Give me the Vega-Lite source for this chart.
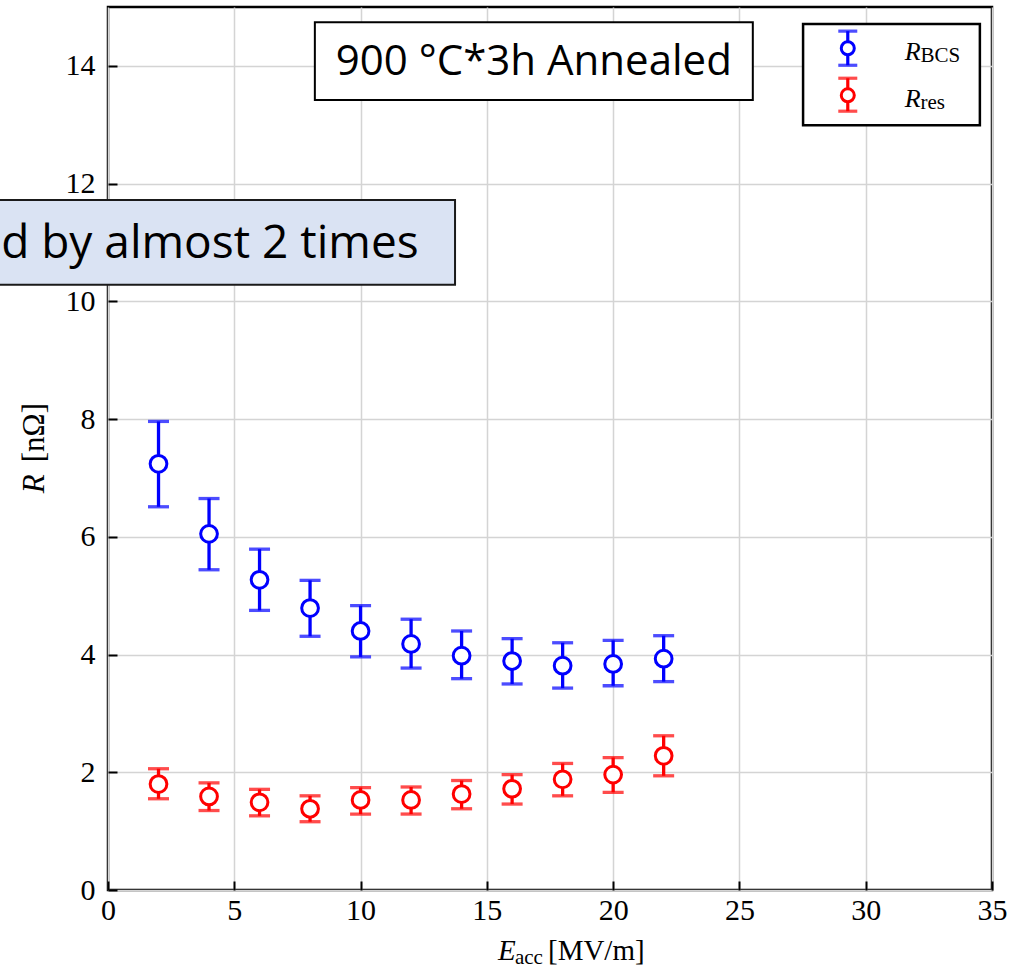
{
  "$schema": "https://vega.github.io/schema/vega-lite/v6.json",
  "width": 884,
  "height": 883,
  "autosize": {"type": "none"},
  "padding": {"left": 108, "top": 7, "right": 37, "bottom": 86},
  "background": "white",
  "config": {
    "view": {"stroke": "black", "strokeWidth": 2.5},
    "axis": {
      "labelFont": "Liberation Serif",
      "labelFontSize": 30,
      "labelColor": "black",
      "labelFlush": false,
      "domain": false,
      "tickColor": "black",
      "tickWidth": 2,
      "tickSize": -9,
      "grid": true,
      "gridColor": "#d4d4d4",
      "gridWidth": 1.5
    }
  },
  "datasets": {
    "pts": [
      {"E": 2, "series": "R_BCS", "R": 7.24, "lo": 6.51, "hi": 7.96},
      {"E": 4, "series": "R_BCS", "R": 6.05, "lo": 5.44, "hi": 6.65},
      {"E": 6, "series": "R_BCS", "R": 5.27, "lo": 4.75, "hi": 5.79},
      {"E": 8, "series": "R_BCS", "R": 4.79, "lo": 4.31, "hi": 5.26},
      {"E": 10, "series": "R_BCS", "R": 4.40, "lo": 3.96, "hi": 4.83},
      {"E": 12, "series": "R_BCS", "R": 4.18, "lo": 3.77, "hi": 4.60},
      {"E": 14, "series": "R_BCS", "R": 3.98, "lo": 3.59, "hi": 4.40},
      {"E": 16, "series": "R_BCS", "R": 3.89, "lo": 3.50, "hi": 4.27},
      {"E": 18, "series": "R_BCS", "R": 3.81, "lo": 3.43, "hi": 4.20},
      {"E": 20, "series": "R_BCS", "R": 3.84, "lo": 3.47, "hi": 4.24},
      {"E": 22, "series": "R_BCS", "R": 3.93, "lo": 3.54, "hi": 4.32},
      {"E": 2, "series": "R_res", "R": 1.80, "lo": 1.55, "hi": 2.06},
      {"E": 4, "series": "R_res", "R": 1.59, "lo": 1.35, "hi": 1.82},
      {"E": 6, "series": "R_res", "R": 1.49, "lo": 1.26, "hi": 1.71},
      {"E": 8, "series": "R_res", "R": 1.38, "lo": 1.16, "hi": 1.60},
      {"E": 10, "series": "R_res", "R": 1.53, "lo": 1.29, "hi": 1.74},
      {"E": 12, "series": "R_res", "R": 1.53, "lo": 1.29, "hi": 1.75},
      {"E": 14, "series": "R_res", "R": 1.63, "lo": 1.38, "hi": 1.86},
      {"E": 16, "series": "R_res", "R": 1.72, "lo": 1.46, "hi": 1.96},
      {"E": 18, "series": "R_res", "R": 1.88, "lo": 1.60, "hi": 2.15},
      {"E": 20, "series": "R_res", "R": 1.96, "lo": 1.66, "hi": 2.25},
      {"E": 22, "series": "R_res", "R": 2.28, "lo": 1.94, "hi": 2.62}
    ],
    "legend": [
      {"series": "R_BCS", "x": 29.29, "y": 14.30, "lo": 14.01, "hi": 14.59, "main": "R", "sub": "BCS", "ty": 14.10, "sy": 14.06},
      {"series": "R_res", "x": 29.29, "y": 13.50, "lo": 13.23, "hi": 13.79, "main": "R", "sub": "res", "ty": 13.30, "sy": 13.26}
    ]
  },
  "layer": [
    {
      "data": {"name": "pts"},
      "mark": {"type": "errorbar", "ticks": {"size": 21, "thickness": 3.3}, "rule": {"strokeWidth": 3.3}},
      "encoding": {
        "x": {"field": "E", "type": "quantitative", "scale": {"domain": [0, 35], "nice": false}, "axis": {"values": [0, 5, 10, 15, 20, 25, 30, 35], "labelPadding": 14, "title": null}},
        "y": {"field": "lo", "type": "quantitative", "scale": {"domain": [0, 15], "nice": false}, "axis": {"values": [0, 2, 4, 6, 8, 10, 12, 14], "labelPadding": 22, "format": "d", "title": null}},
        "y2": {"field": "hi"},
        "color": {"field": "series", "type": "nominal", "scale": {"domain": ["R_BCS", "R_res"], "range": ["#0000ff", "#ff0000"]}, "legend": null}
      }
    },
    {
      "data": {"name": "pts"},
      "mark": {"type": "point", "shape": "circle", "fill": "white", "filled": false, "opacity": 1, "strokeWidth": 3, "size": 280},
      "encoding": {
        "x": {"field": "E", "type": "quantitative"},
        "y": {"field": "R", "type": "quantitative"},
        "stroke": {"field": "series", "type": "nominal", "scale": {"domain": ["R_BCS", "R_res"], "range": ["#0000ff", "#ff0000"]}, "legend": null}
      }
    },
    {
      "data": {"values": [{"x1": 8.19, "x2": 25.53, "y1": 14.74, "y2": 13.42}]},
      "mark": {"type": "rect", "fill": "white", "stroke": "black", "strokeWidth": 2},
      "encoding": {
        "x": {"field": "x1", "type": "quantitative"}, "x2": {"field": "x2"},
        "y": {"field": "y1", "type": "quantitative"}, "y2": {"field": "y2"}
      }
    },
    {
      "data": {"values": [{"x": 16.86, "y": 14.06, "t": "900 °C*3h Annealed"}]},
      "mark": {"type": "text", "font": "Open Sans", "fontSize": 42, "align": "center", "baseline": "middle", "color": "black"},
      "encoding": {
        "x": {"field": "x", "type": "quantitative"}, "y": {"field": "y", "type": "quantitative"},
        "text": {"field": "t"}
      }
    },
    {
      "data": {"values": [{"x1": -6, "x2": 13.74, "y1": 11.72, "y2": 10.28}]},
      "mark": {"type": "rect", "fill": "#dae3f3", "stroke": "#1a1a1a", "strokeWidth": 2},
      "encoding": {
        "x": {"field": "x1", "type": "quantitative"}, "x2": {"field": "x2"},
        "y": {"field": "y1", "type": "quantitative"}, "y2": {"field": "y2"}
      }
    },
    {
      "data": {"values": [{"x": 12.3, "y": 10.97, "t": "d by almost 2 times"}]},
      "mark": {"type": "text", "font": "Open Sans", "fontSize": 46, "align": "right", "baseline": "middle", "color": "black"},
      "encoding": {
        "x": {"field": "x", "type": "quantitative"}, "y": {"field": "y", "type": "quantitative"},
        "text": {"field": "t"}
      }
    },
    {
      "data": {"values": [{"x1": 27.52, "x2": 34.52, "y1": 14.71, "y2": 12.99}]},
      "mark": {"type": "rect", "fill": "white", "stroke": "black", "strokeWidth": 2.5},
      "encoding": {
        "x": {"field": "x1", "type": "quantitative"}, "x2": {"field": "x2"},
        "y": {"field": "y1", "type": "quantitative"}, "y2": {"field": "y2"}
      }
    },
    {
      "data": {"name": "legend"},
      "mark": {"type": "errorbar", "ticks": {"size": 19, "thickness": 3.2}, "rule": {"strokeWidth": 3.2}},
      "encoding": {
        "x": {"field": "x", "type": "quantitative"},
        "y": {"field": "lo", "type": "quantitative"}, "y2": {"field": "hi"},
        "color": {"field": "series", "type": "nominal", "scale": {"domain": ["R_BCS", "R_res"], "range": ["#0000ff", "#ff0000"]}, "legend": null}
      }
    },
    {
      "data": {"name": "legend"},
      "mark": {"type": "point", "shape": "circle", "fill": "white", "filled": false, "opacity": 1, "strokeWidth": 3, "size": 170},
      "encoding": {
        "x": {"field": "x", "type": "quantitative"},
        "y": {"field": "y", "type": "quantitative"},
        "stroke": {"field": "series", "type": "nominal", "scale": {"domain": ["R_BCS", "R_res"], "range": ["#0000ff", "#ff0000"]}, "legend": null}
      }
    },
    {
      "data": {"name": "legend"},
      "transform": [{"calculate": "31.55", "as": "tx"}],
      "mark": {"type": "text", "font": "Liberation Serif", "fontStyle": "italic", "fontSize": 26, "align": "left", "baseline": "alphabetic", "color": "black"},
      "encoding": {
        "x": {"field": "tx", "type": "quantitative"}, "y": {"field": "ty", "type": "quantitative"},
        "text": {"field": "main"}
      }
    },
    {
      "data": {"name": "legend"},
      "transform": [{"calculate": "32.17", "as": "tx"}],
      "mark": {"type": "text", "font": "Liberation Serif", "fontSize": 21, "align": "left", "baseline": "alphabetic", "color": "black"},
      "encoding": {
        "x": {"field": "tx", "type": "quantitative"}, "y": {"field": "sy", "type": "quantitative"},
        "text": {"field": "sub"}
      }
    },
    {
      "data": {"values": [{"x": -2.9, "y": 6.9, "t": "R"}]},
      "mark": {"type": "text", "font": "Liberation Serif", "fontStyle": "italic", "fontSize": 31, "angle": 270, "align": "center", "baseline": "middle", "color": "black"},
      "encoding": {
        "x": {"field": "x", "type": "quantitative"}, "y": {"field": "y", "type": "quantitative"},
        "text": {"field": "t"}
      }
    },
    {
      "data": {"values": [{"x": -2.9, "y": 7.77, "t": "[nΩ]"}]},
      "mark": {"type": "text", "font": "Liberation Serif", "fontSize": 31, "angle": 270, "align": "center", "baseline": "middle", "color": "black"},
      "encoding": {
        "x": {"field": "x", "type": "quantitative"}, "y": {"field": "y", "type": "quantitative"},
        "text": {"field": "t"}
      }
    },
    {
      "data": {"values": [{"x": 15.44, "y": -1.19, "t": "E"}]},
      "mark": {"type": "text", "font": "Liberation Serif", "fontStyle": "italic", "fontSize": 29, "align": "left", "baseline": "alphabetic", "color": "black"},
      "encoding": {
        "x": {"field": "x", "type": "quantitative"}, "y": {"field": "y", "type": "quantitative"},
        "text": {"field": "t"}
      }
    },
    {
      "data": {"values": [{"x": 16.11, "y": -1.25, "t": "acc"}]},
      "mark": {"type": "text", "font": "Liberation Serif", "fontSize": 21, "align": "left", "baseline": "alphabetic", "color": "black"},
      "encoding": {
        "x": {"field": "x", "type": "quantitative"}, "y": {"field": "y", "type": "quantitative"},
        "text": {"field": "t"}
      }
    },
    {
      "data": {"values": [{"x": 17.42, "y": -1.19, "t": "[MV/m]"}]},
      "mark": {"type": "text", "font": "Liberation Serif", "fontSize": 29, "align": "left", "baseline": "alphabetic", "color": "black"},
      "encoding": {
        "x": {"field": "x", "type": "quantitative"}, "y": {"field": "y", "type": "quantitative"},
        "text": {"field": "t"}
      }
    }
  ]
}
